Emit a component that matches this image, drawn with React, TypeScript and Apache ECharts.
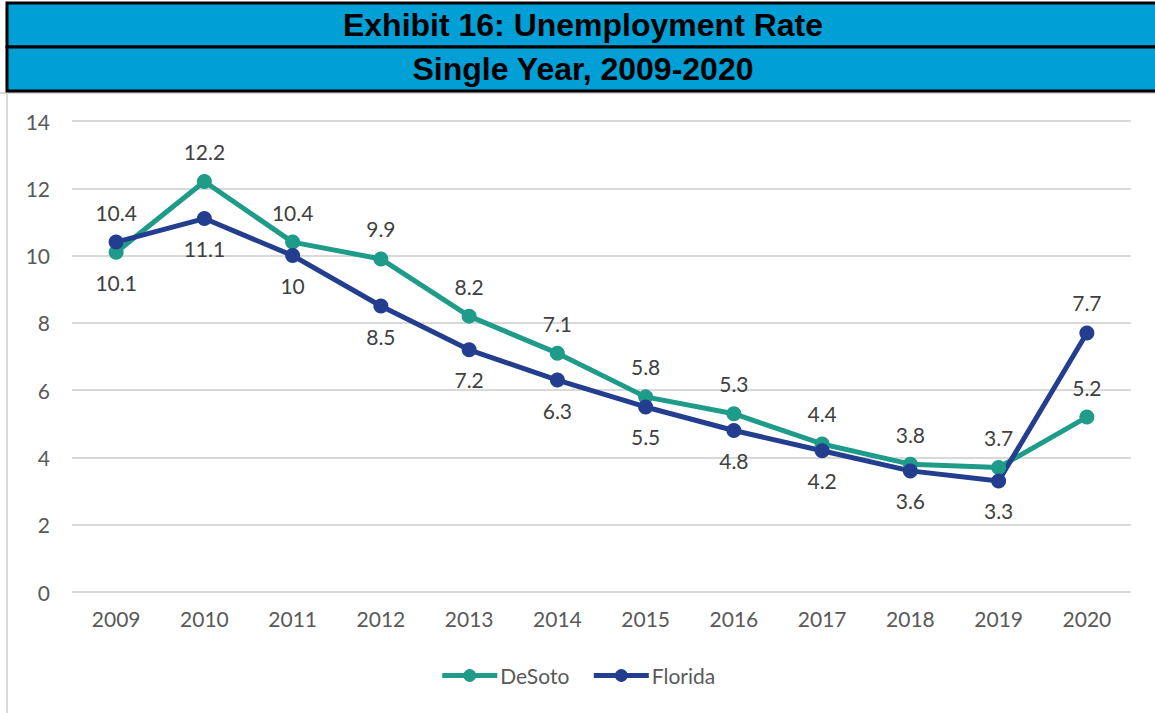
import React, { useEffect, useRef } from "react";
import * as echarts from "echarts";

const years = ["2009", "2010", "2011", "2012", "2013", "2014", "2015", "2016", "2017", "2018", "2019", "2020"];
const desoto = [10.1, 12.2, 10.4, 9.9, 8.2, 7.1, 5.8, 5.3, 4.4, 3.8, 3.7, 5.2];
const florida = [10.4, 11.1, 10, 8.5, 7.2, 6.3, 5.5, 4.8, 4.2, 3.6, 3.3, 7.7];
// label placement: true = above the point
const desotoAbove = [false, true, true, true, true, true, true, true, true, true, true, true];
const floridaAbove = [true, false, false, false, false, false, false, false, false, false, false, true];

const TEAL = "#1f9b89";
const NAVY = "#233e8e";
const FONT = "Lato, 'Open Sans', sans-serif";

function makeData(values: number[], above: boolean[]) {
  return values.map((v, i) => ({
    value: v,
    label: { position: above[i] ? "top" : "bottom" },
  }));
}

export default function App() {
  const ref = useRef<HTMLDivElement>(null);
  useEffect(() => {
    if (!ref.current) return;
    const chart = echarts.init(ref.current, null, { renderer: "svg" });
    const labelStyle = {
      show: true,
      distance: 12,
      color: "#404040",
      fontSize: 21,
      fontFamily: FONT,
    };
    chart.setOption({
      animation: false,
      backgroundColor: "#ffffff",
      graphic: [
        { type: "line", shape: { x1: 0, y1: 93, x2: 1155, y2: 93 }, style: { stroke: "#d9d9d9", lineWidth: 2 } },
        { type: "line", shape: { x1: 7, y1: 93, x2: 7, y2: 713 }, style: { stroke: "#d9d9d9", lineWidth: 2 } },
        { type: "rect", shape: { x: 7, y: 3, width: 1160, height: 44 }, style: { fill: "#009fd6", stroke: "#000", lineWidth: 3 } },
        { type: "rect", shape: { x: 7, y: 47, width: 1160, height: 44 }, style: { fill: "#009fd6", stroke: "#000", lineWidth: 3 } },
        {
          type: "text", x: 583, y: 25,
          style: { text: "Exhibit 16: Unemployment Rate", fill: "#000", font: "bold 32px 'Liberation Sans', Arial, sans-serif", align: "center", verticalAlign: "middle" },
        },
        {
          type: "text", x: 583, y: 69,
          style: { text: "Single Year, 2009-2020", fill: "#000", font: "bold 32px 'Liberation Sans', Arial, sans-serif", align: "center", verticalAlign: "middle" },
        },
      ],
      grid: { left: 72, right: 24, top: 121, bottom: 121, containLabel: false },
      legend: {
        bottom: 22,
        left: "center",
        itemWidth: 55,
        itemHeight: 16,
        itemGap: 22,
        textStyle: { color: "#595959", fontSize: 21, fontFamily: FONT, padding: [0, 0, 0, -2] },
        lineStyle: { width: 5 },
        data: ["DeSoto", "Florida"],
      },
      xAxis: {
        type: "category",
        data: years,
        boundaryGap: true,
        axisLine: { show: false },
        axisTick: { show: false },
        axisLabel: { color: "#595959", fontSize: 21, fontFamily: FONT, margin: 16 },
      },
      yAxis: {
        type: "value",
        min: 0,
        max: 14,
        interval: 2,
        axisLine: { show: false },
        axisTick: { show: false },
        axisLabel: { color: "#595959", fontSize: 21, fontFamily: FONT, margin: 22 },
        splitLine: { lineStyle: { color: "#d9d9d9", width: 2 } },
      },
      series: [
        {
          name: "DeSoto",
          type: "line",
          data: makeData(desoto, desotoAbove),
          symbol: "circle",
          symbolSize: 15,
          color: TEAL,
          lineStyle: { width: 5, color: TEAL },
          itemStyle: { color: TEAL },
          label: labelStyle,
        },
        {
          name: "Florida",
          type: "line",
          data: makeData(florida, floridaAbove),
          symbol: "circle",
          symbolSize: 15,
          color: NAVY,
          lineStyle: { width: 5, color: NAVY },
          itemStyle: { color: NAVY },
          label: labelStyle,
        },
      ],
    });
    return () => chart.dispose();
  }, []);
  return <div ref={ref} style={{ position: "absolute", left: 0, top: 0, width: 1155, height: 713 }} />;
}
